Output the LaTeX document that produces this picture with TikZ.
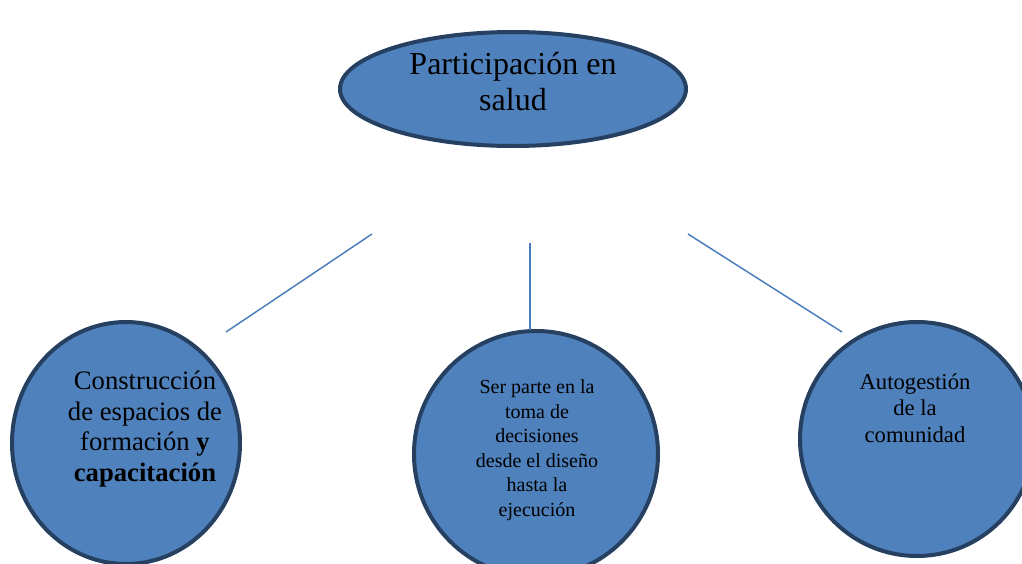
\documentclass[tikz,border=0pt]{standalone}
\usepackage{fontspec}
\setmainfont{Liberation Serif}
\usepackage{tikz}
\usetikzlibrary{shapes.geometric,positioning}

\definecolor{bubblefill}{RGB}{79,129,189}
\definecolor{bubbleedge}{RGB}{38,64,97}
\definecolor{linkblue}{RGB}{74,126,187}

\begin{document}
\begin{tikzpicture}[x=0.75pt,y=-0.75pt]
\tikzstyle{bubble}=[ellipse,draw=bubbleedge,fill=bubblefill,line width=3pt,inner sep=0pt]
\tikzstyle{btext}=[align=center,inner sep=0pt,text=black]
\tikzstyle{link}=[draw=linkblue,line width=1.1pt]

\useasboundingbox (0,0) rectangle (1022,564);

% main topic
\node[bubble,minimum width=259.5pt,minimum height=85.5pt] (salud) at (513,89) {};
\node[btext,font=\fontsize{24}{27}\selectfont] (saludtxt) at (513,82) {Participación en\\salud};

% three branches
\node[bubble,minimum width=171pt,minimum height=181.5pt] (constr) at (126,443) {};
\node[bubble,minimum width=183pt,minimum height=184.5pt] (decis) at (536,454) {};
\node[bubble,minimum width=175.5pt,minimum height=175.5pt] (autog) at (917,439) {};

\node[btext,font=\fontsize{20}{23}\selectfont] (constrtxt) at (145,429)
  {Construcción\\de espacios de\\formación \textbf{y}\\\textbf{capacitación}};
\node[btext,font=\fontsize{15}{18.4}\selectfont] (decistxt) at (537,450)
  {Ser parte en la\\toma de\\decisiones\\desde el diseño\\hasta la\\ejecución};
\node[btext,font=\fontsize{17}{20}\selectfont] (autogtxt) at (915,408)
  {Autogestión\\de la\\comunidad};

% connectors
\coordinate (l1a) at (372,234);
\coordinate (l1b) at (226,332);
\coordinate (l2a) at (530,243);
\coordinate (l2b) at (530,330);
\coordinate (l3a) at (688,234);
\coordinate (l3b) at (842,332);
\draw[link] (l1a) -- (l1b);
\draw[link] (l2a) -- (l2b);
\draw[link] (l3a) -- (l3b);
\end{tikzpicture}
\end{document}
